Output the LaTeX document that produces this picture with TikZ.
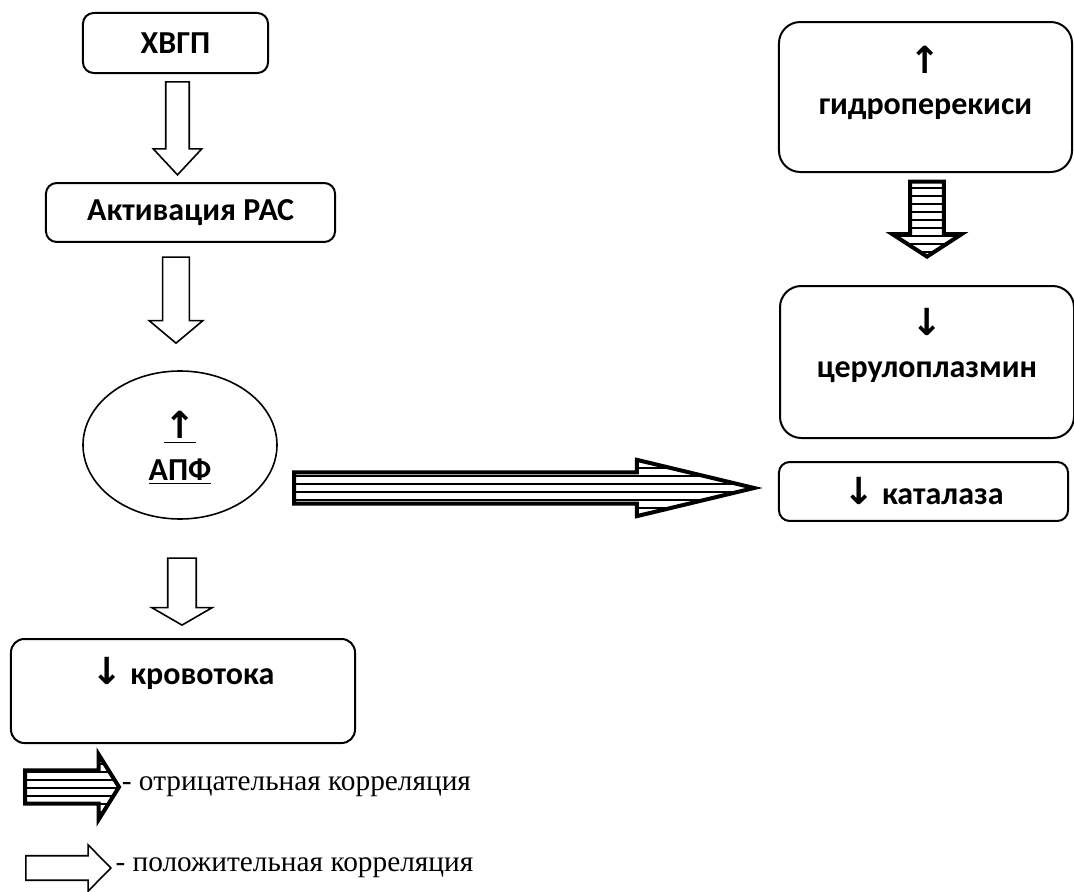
\documentclass[tikz,border=0pt]{standalone}
\usepackage{fontspec}
\setmainfont{Liberation Serif}
\newfontfamily\boxfont{Carlito}
\newfontfamily\arrfont{DejaVu Sans}
\usepackage{tikz}
\usetikzlibrary{shapes,arrows.meta,positioning,calc,patterns.meta}

\newcommand{\arrup}{{\arrfont\bfseries\fontsize{14}{14}\selectfont ↑}}
\newcommand{\arrdn}{{\arrfont\bfseries\fontsize{14}{14}\selectfont ↓}}
\newcommand{\twolines}[2]{\begin{tabular}[b]{@{}c@{}}#1\\[1pt]#2\end{tabular}}

\begin{document}
\begin{tikzpicture}[x=0.375pt, y=-0.375pt,
    box/.style={rectangle, draw, line width=0.75pt, rounded corners=#1, inner sep=0pt, font=\fontsize{12}{14.5}\selectfont\boxfont\bfseries},
    box/.default=4pt,
    oval/.style={ellipse, draw, line width=0.6pt, inner sep=0pt, font=\fontsize{12}{14.5}\selectfont\boxfont\bfseries},
    posarrow/.style={single arrow, draw, line width=0.6pt, fill=white, inner xsep=0pt, single arrow head indent=0pt},
    negarrow/.style={single arrow, draw, line width=1.5pt, inner xsep=0pt, single arrow head indent=0pt,
        pattern={Lines[angle=0, distance=3pt, line width=0.5pt]}},
    legend/.style={anchor=west, inner sep=0pt, font=\fontsize{11}{13}\selectfont}
]
    \useasboundingbox (0,0) rectangle (1074,892);

    % left column
    \node[box] (hvgp) at (175.5,43) [minimum width=69.4pt, minimum height=22.5pt] {ХВГП};
    \node[box] (ras) at (190.5,212.5) [minimum width=108.4pt, minimum height=22.1pt] {Активация РАС};
    \node[oval, minimum width=72.75pt, minimum height=55.5pt, text height=32.25pt, text depth=6pt] (apf) at (180,445)
        {\twolines{\underline{\arrup}}{\underline{АПФ}}};
    \node[box=5pt, minimum width=129pt, minimum height=39pt, text height=8pt, text depth=13.25pt] (krov) at (183,691)
        {\arrdn{} кровотока};

    % right column
    \node[box=8pt, minimum width=109.9pt, minimum height=56.25pt, text height=19.5pt, text depth=6pt] (gidro) at (925.5,97)
        {\twolines{\arrup}{гидроперекиси}};
    \node[box=8pt, minimum width=110.25pt, minimum height=57pt, text height=17.25pt, text depth=6pt] (cerulo) at (927,362)
        {\twolines{\arrdn}{церулоплазмин}};
    \node[box] (katal) at (923.5,491.5) [minimum width=108.4pt, minimum height=22.1pt] {\arrdn{} каталаза};

    % positive links
    \node[posarrow, rotate=-90, minimum height=34.9pt, minimum width=17.6pt, inner ysep=4.1pt,
        single arrow head extend=4.7pt, single arrow tip angle=86, anchor=tail] (hvgptoras) at ($(hvgp.south)+(2,7)$) {};
    \node[posarrow, rotate=-90, minimum height=32.25pt, minimum width=19.5pt, inner ysep=4.7pt,
        single arrow head extend=5.05pt, single arrow tip angle=100, anchor=tip] (rastoapf) at ($(apf.north)+(-4,-26)$) {};
    \node[posarrow, rotate=-90, minimum height=25.1pt, minimum width=22.1pt, inner ysep=5.05pt,
        single arrow head extend=6pt, single arrow tip angle=120, anchor=tip] (apftokrov) at ($(krov.north)+(-1,-12)$) {};

    % negative links
    \node[negarrow, minimum height=172.5pt, minimum width=20.6pt, inner ysep=5.6pt,
        single arrow head extend=4.7pt, single arrow tip angle=27, anchor=tip] (apftokatal) at ($(katal.west)+(-21,-3.5)$) {};
    \node[negarrow, rotate=-90, minimum height=28.1pt, minimum width=24.4pt, inner ysep=5.6pt,
        single arrow head extend=6.6pt, single arrow tip angle=114, anchor=tip] (gidrotocer) at ($(cerulo.north)+(0,-26)$) {};

    % legend
    \node[negarrow, minimum height=35.25pt, minimum width=22.9pt, inner ysep=5.45pt,
        single arrow head extend=6pt, single arrow tip angle=116, anchor=tail] (legneg) at (23,787) {};
    \node[legend] (legnegtxt) at (legneg.tip) {- отрицательная корреляция};
    \node[posarrow, minimum height=31.9pt, minimum width=16.9pt, inner ysep=4.3pt,
        single arrow head extend=4.1pt, single arrow tip angle=91, anchor=tail] (legpos) at (25,868) {};
    \node[legend] (legpostxt) at ($(legpos.tip)+(3,0)$) {- положительная корреляция};
\end{tikzpicture}
\end{document}
